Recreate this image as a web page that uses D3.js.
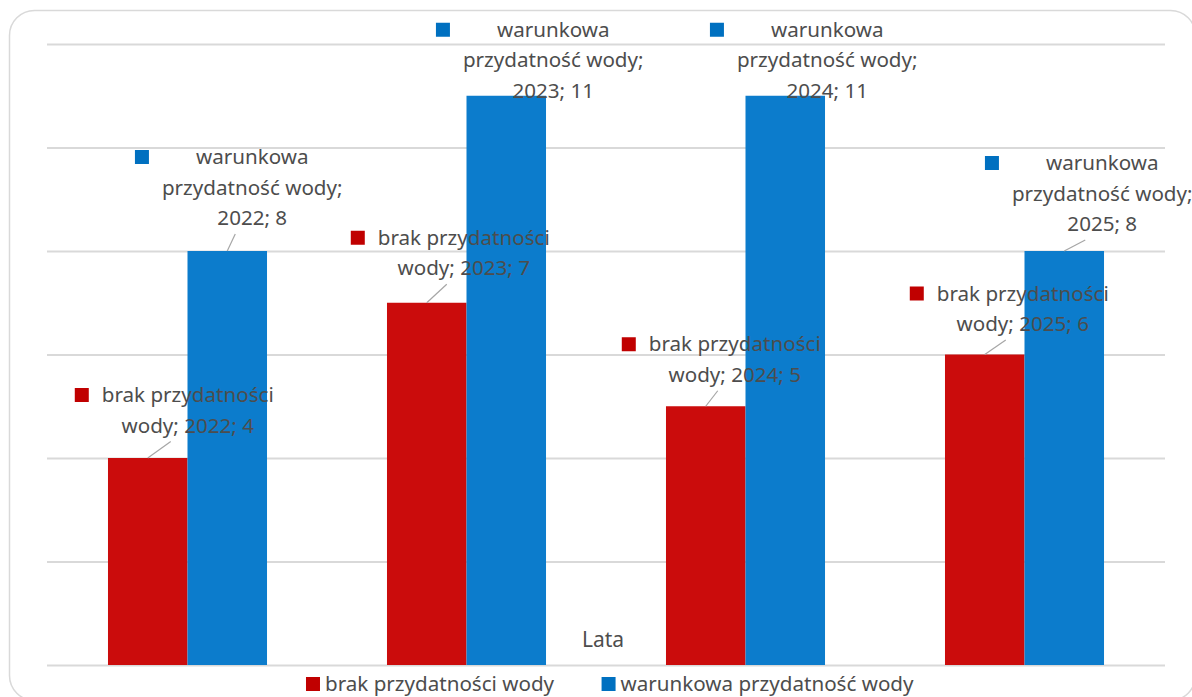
<!DOCTYPE html>
<html>
<head>
<meta charset="utf-8">
<script src="https://cdn.jsdelivr.net/npm/d3@7"></script>
<style>
  body { margin: 0; background: #fff; }
  text { font-family: "Noto Sans", "Open Sans", sans-serif; fill: #4d4d4d; }
</style>
</head>
<body>
<div id="chart"></div>
<script>
var width = 1192,
    height = 697;

// data
var years = ['2022', '2023', '2024', '2025'];
var seriesNames = ['brak przydatności wody', 'warunkowa przydatność wody'];
var brakValues = [4, 7, 5, 6];
var warunkowaValues = [8, 11, 11, 8];
var yTicks = [0, 2, 4, 6, 8, 10, 12];
var axisTitle = 'Lata';

// label layout (offset of label centre from bar top centre, in px)
var labelDx = [[40, 37, 29, 38], [25, 47, 42, 38]];
var labelDy = [[-63, -65, -62, -61], [-94, -66, -66, -88]];
var labelLines = [
  function(y, v) { return ['brak przydatności', 'wody; ' + y + '; ' + v]; },
  function(y, v) { return ['warunkowa', 'przydatność wody;', y + '; ' + v]; }
];

var barColors = ['#cb0c0c', '#0c7ccc'];
var keyColors = ['#c00000', '#0070c0'];
var fontSize = 20.6, lineH = 30.5;

var svg = d3.select('#chart').append('svg')
    .attr('width', width)
    .attr('height', height);

svg.append('rect')
    .attr('x', 9.5).attr('y', 10.5)
    .attr('width', 1186).attr('height', 690)
    .attr('rx', 25)
    .attr('fill', '#fff')
    .attr('stroke', '#d9d9d9')
    .attr('stroke-width', 1.5);

var x = d3.scaleBand()
    .domain(years)
    .range([48, 1164])
    .paddingInner(0.43)
    .paddingOuter(0.215);

var xSub = d3.scaleBand()
    .domain([0, 1])
    .range([0, x.bandwidth()]);

var y = d3.scaleLinear()
    .domain([0, 12])
    .range([665, 44]);

// gridlines
svg.append('g')
    .attr('class', 'grid')
    .attr('transform', 'translate(47,0)')
    .call(d3.axisLeft(y).tickValues(yTicks).tickSize(-(1165 - 47)).tickFormat(''))
    .call(function(g) { g.select('.domain').remove(); })
    .selectAll('line')
      .attr('stroke', '#d9d9d9')
      .attr('stroke-width', 2);

var series = [brakValues, warunkowaValues];

var groups = svg.selectAll('.year')
    .data(years)
    .enter().append('g')
      .attr('class', 'year')
      .attr('transform', function(d) { return 'translate(' + x(d) + ',0)'; });

groups.selectAll('rect')
    .data(function(d, i) { return series.map(function(s, k) { return { k: k, v: s[i] }; }); })
    .enter().append('rect')
      .attr('x', function(d) { return xSub(d.k); })
      .attr('width', xSub.bandwidth())
      .attr('y', function(d) { return y(d.v); })
      .attr('height', function(d) { return y(0) - y(d.v); })
      .attr('fill', function(d) { return barColors[d.k]; });

// axis title
svg.append('text')
    .attr('x', 603)
    .attr('y', 640)
    .attr('dy', '0.35em')
    .attr('text-anchor', 'middle')
    .attr('font-size', 21)
    .text(axisTitle);

// data labels with keys and leader lines
var labelLayer = svg.append('g');
series.forEach(function(s, k) {
  years.forEach(function(yr, i) {
    var bx = x(yr) + xSub(k) + xSub.bandwidth() / 2,
        by = y(s[i]);
    var cx = bx + labelDx[k][i],
        cy = by + labelDy[k][i];
    var lines = labelLines[k](yr, s[i]);
    var g = labelLayer.append('g');
    var maxW = 0;
    lines.forEach(function(t, j) {
      var tx = g.append('text')
          .attr('x', cx)
          .attr('y', cy + j * lineH)
          .attr('dy', '0.35em')
          .attr('text-anchor', 'middle')
          .attr('font-size', fontSize)
          .text(t);
      maxW = Math.max(maxW, tx.node().getComputedTextLength());
    });
    g.insert('rect', 'text')
        .attr('x', cx - maxW / 2 - 27)
        .attr('y', cy - 7)
        .attr('width', 14)
        .attr('height', 14)
        .attr('fill', keyColors[k]);
    var sx = cx - 17,
        sy = cy + (lines.length - 1) * lineH + 16;
    if (sy < by - 5) {
      labelLayer.insert('line', 'g')
          .attr('x1', sx).attr('y1', sy)
          .attr('x2', bx).attr('y2', by)
          .attr('stroke', '#a6a6a6')
          .attr('stroke-width', 1.2);
    }
  });
});

// legend
var legend = svg.append('g').attr('class', 'legend');
var items = legend.selectAll('g')
    .data(seriesNames)
    .enter().append('g');
items.append('rect')
    .attr('width', 14).attr('height', 14)
    .attr('y', 677)
    .attr('fill', function(d, i) { return keyColors[i]; });
items.append('text')
    .attr('x', 19)
    .attr('y', 684)
    .attr('dy', '0.35em')
    .attr('font-size', fontSize)
    .text(function(d) { return d; });
var pos = 0, gap = 47, offs = [];
items.each(function() {
  offs.push(pos);
  pos += this.getBBox().width + gap;
});
var legendW = pos - gap, lx = 610 - legendW / 2;
items.attr('transform', function(d, i) { return 'translate(' + (lx + offs[i]) + ',0)'; });
</script>
</body>
</html>
